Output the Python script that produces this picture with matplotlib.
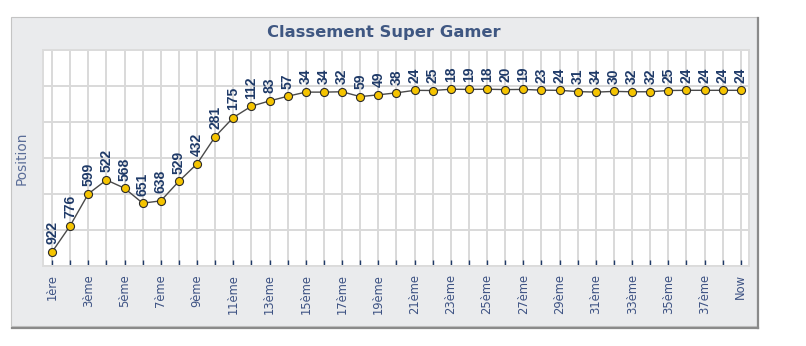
import matplotlib

matplotlib.use("Agg")
import matplotlib.pyplot as plt
from matplotlib.patches import Rectangle
from matplotlib.lines import Line2D

# ranking after each round (lower is better)
rounds = list(range(1, 40))
positions = [922, 776, 599, 522, 568, 651, 638, 529, 432, 281,
             175, 112, 83, 57, 34, 34, 32, 59, 49, 38,
             24, 25, 18, 19, 18, 20, 19, 23, 24, 31,
             34, 30, 32, 32, 25, 24, 24, 24, 24]
tick_labels = ["1ère"] + [f"{n}ème" for n in range(2, 39)] + ["Now"]
shown_labels = [lab if (i % 2 == 0) else "" for i, lab in enumerate(tick_labels)]

navy = "#1f3a68"
label_blue = "#3d5283"
grid_col = "#d9d9d9"

fig = plt.figure(figsize=(8.06, 3.46), dpi=100)
W, H = 806, 346

# grey panel behind the chart
fig.patches.append(Rectangle((11 / W, 1 - 326 / H), 746 / W, 309 / H, transform=fig.transFigure,
                             facecolor="#eaebed", edgecolor="#c4c4c4", linewidth=0.8, zorder=-10))
fig.lines.append(Line2D([758 / W, 758 / W], [1 - 328 / H, 1 - 18 / H], transform=fig.transFigure,
                        color="#8a8a8a", linewidth=1.6, zorder=-9))
fig.lines.append(Line2D([12 / W, 758 / W], [1 - 327.5 / H, 1 - 327.5 / H], transform=fig.transFigure,
                        color="#8a8a8a", linewidth=1.6, zorder=-9))

ax = fig.add_axes([43 / W, 1 - 266 / H, 706 / W, 216 / H])
ax.set_zorder(1)
ax.set_facecolor("white")
ax.plot(rounds, positions, color="#4a4a4a", linewidth=1.0, marker="o", markersize=5.8,
        markerfacecolor="#f5c400", markeredgecolor="#2b2b2b", markeredgewidth=0.8, zorder=3)

for x, v in zip(rounds, positions):
    ax.annotate(str(v), (x, v), xytext=(0, 5.5), textcoords="offset points", rotation=90,
                ha="center", va="bottom", fontsize=10, fontweight="bold", color=navy,
                family="Liberation Sans", zorder=4)

ax.set_ylim(1000, -200)
ax.set_yticks(range(-200, 1001, 200))
ax.set_yticklabels([])
ax.tick_params(axis="y", length=0)
ax.set_xlim(0.5, 39.45)
ax.set_xticks(rounds)
ax.set_xticklabels(shown_labels, rotation=90, fontsize=8.3, color=label_blue)
ax.tick_params(axis="x", direction="in", length=4, width=1, color=navy, pad=6)
ax.grid(True, color=grid_col, linewidth=1.4)
ax.set_axisbelow(True)
for sp in ax.spines.values():
    sp.set_color("#dcdcdc")
    sp.set_linewidth(1.4)

fig.text(384 / W, 1 - 32 / H, "Classement Super Gamer", ha="center", va="center",
         fontsize=11.8, fontweight="bold", color="#3f5782")
fig.text(22 / W, 1 - 158 / H, "Position", rotation=90, ha="center", va="center",
         fontsize=9.8, color="#5a6d98")

fig.savefig("out.png", dpi=100)
plt.close(fig)
